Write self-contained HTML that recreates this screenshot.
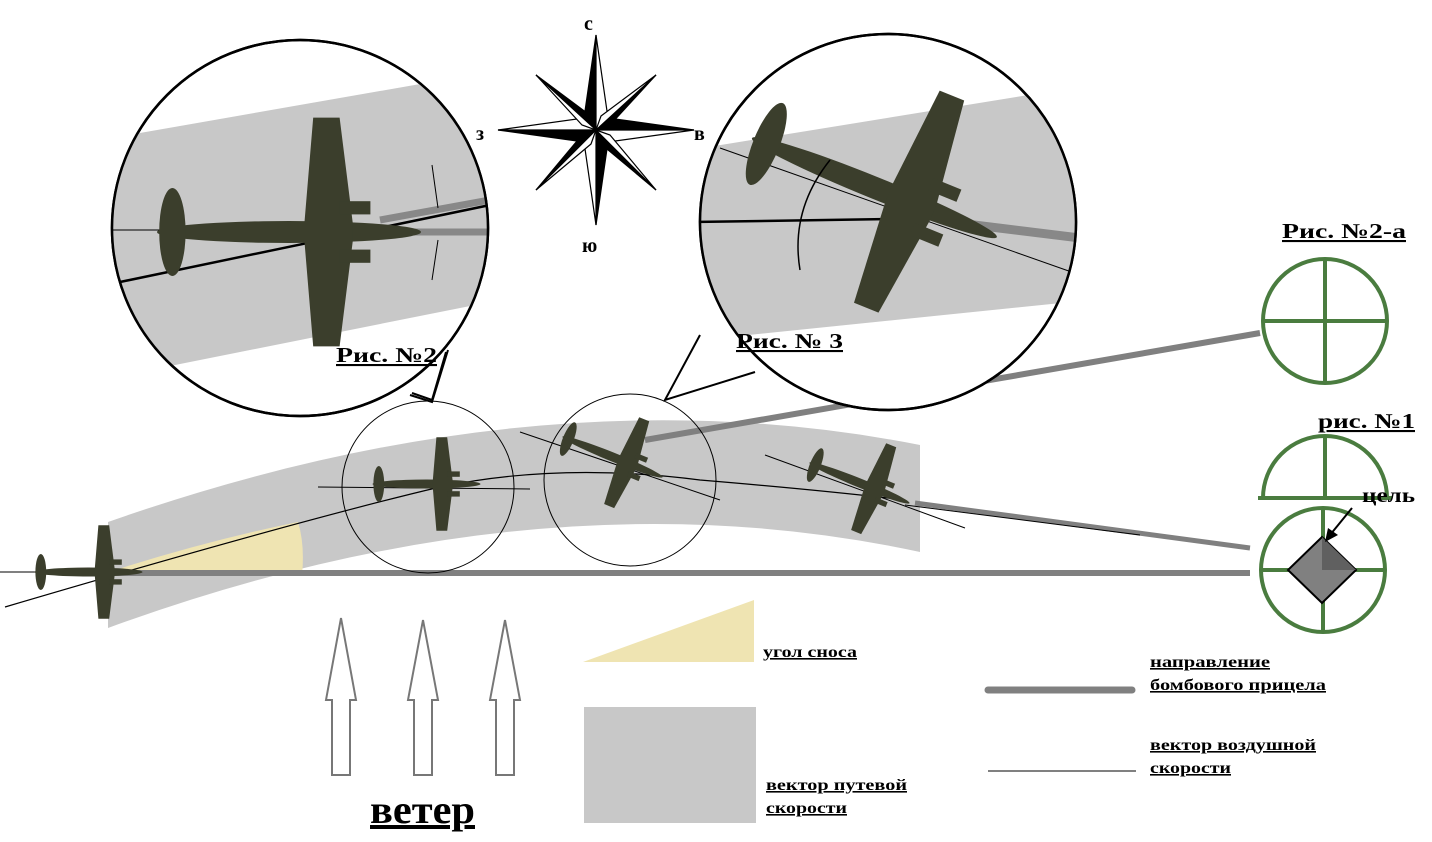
<!DOCTYPE html>
<html><head><meta charset="utf-8"><style>
body{margin:0;background:#fff}
svg{display:block}
text{font-family:"Liberation Serif",serif;font-weight:bold}
</style></head><body>
<svg width="1432" height="842" viewBox="0 0 1432 842" xmlns="http://www.w3.org/2000/svg">
<defs>
<g id="pl">
  <ellipse cx="-15" cy="0" rx="60" ry="5" fill="#3b3e2c"/>
  <ellipse cx="-68" cy="0" rx="6" ry="20" fill="#3b3e2c"/>
  <path d="M-8,-4 L-4,-52 L8,-52 L14,-4 L14,4 L8,52 L-4,52 L-8,4 Z" fill="#3b3e2c"/>
  <rect x="8" y="-14" width="14" height="6" fill="#3b3e2c"/>
  <rect x="8" y="8" width="14" height="6" fill="#3b3e2c"/>
</g>
<clipPath id="c1"><circle cx="300" cy="228" r="188"/></clipPath>
<clipPath id="c2"><circle cx="888" cy="222" r="188"/></clipPath>
</defs>

<path d="M108,522 Q540,370 920,445 L920,552 Q540,470 108,628 Z" fill="#c8c8c8"/>
<path d="M115,575 L302,575 Q305,545 298,522 Q210,540 115,570 Z" fill="#efe4b2"/>

<line x1="115" y1="573" x2="1250" y2="573" stroke="#808080" stroke-width="6"/>
<line x1="645" y1="440" x2="1260" y2="333" stroke="#808080" stroke-width="6"/>
<line x1="915" y1="503" x2="1250" y2="548" stroke="#808080" stroke-width="5"/>

<line x1="0" y1="572" x2="115" y2="572" stroke="#000" stroke-width="1"/>
<path d="M5,607 Q300,520 440,487 Q560,462 700,480 Q820,490 905,500" fill="none" stroke="#000" stroke-width="1.2"/>
<line x1="318" y1="487" x2="530" y2="489" stroke="#000" stroke-width="1"/>
<line x1="520" y1="432" x2="720" y2="500" stroke="#000" stroke-width="1"/>
<line x1="765" y1="455" x2="965" y2="528" stroke="#000" stroke-width="1"/>
<line x1="905" y1="505" x2="1140" y2="535" stroke="#000" stroke-width="1"/>

<use href="#pl" transform="translate(102,572) scale(0.9)"/>
<use href="#pl" transform="translate(440,484) scale(0.9)"/>
<use href="#pl" transform="translate(625,462) rotate(22) scale(0.9)"/>
<use href="#pl" transform="translate(872,488) rotate(22) scale(0.9)"/>

<circle cx="428" cy="487" r="86" fill="none" stroke="#000" stroke-width="1"/>
<circle cx="630" cy="480" r="86" fill="none" stroke="#000" stroke-width="1"/>

<path d="M410,395 L432,402 L448,350" fill="#fff" stroke="#000" stroke-width="2"/>
<circle cx="300" cy="228" r="188" fill="#fff" stroke="#000" stroke-width="2.5"/>
<g clip-path="url(#c1)">
  <polygon points="100,140 500,70 500,300 100,380" fill="#c8c8c8"/>
  <line x1="110" y1="230" x2="490" y2="230" stroke="#000" stroke-width="1"/>
  <line x1="120" y1="282" x2="490" y2="205" stroke="#000" stroke-width="2.5"/>
  <line x1="380" y1="220" x2="490" y2="200" stroke="#888" stroke-width="7"/>
  <line x1="380" y1="232" x2="490" y2="232" stroke="#888" stroke-width="7"/>
  <use href="#pl" transform="translate(322,232) scale(2.2)"/>
  <line x1="432" y1="165" x2="438" y2="208" stroke="#000" stroke-width="1"/>
  <line x1="432" y1="280" x2="438" y2="240" stroke="#000" stroke-width="1"/>
</g>
<circle cx="300" cy="228" r="188" fill="none" stroke="#000" stroke-width="2.5"/>
<path d="M412,393 L432,400 L446,352" fill="none" stroke="#000" stroke-width="2"/>

<circle cx="888" cy="222" r="188" fill="#fff" stroke="#000" stroke-width="2.5"/>
<g clip-path="url(#c2)">
  <polygon points="690,150 1090,85 1090,300 700,340" fill="#c8c8c8"/>
  <line x1="695" y1="222" x2="960" y2="218" stroke="#000" stroke-width="2.5"/>
  <line x1="720" y1="148" x2="1080" y2="275" stroke="#000" stroke-width="1"/>
  <line x1="950" y1="222" x2="1080" y2="238" stroke="#888" stroke-width="9"/>
  <use href="#pl" transform="translate(905,200) rotate(22) scale(2.2)"/>
  <path d="M830,160 Q790,210 800,270" fill="none" stroke="#000" stroke-width="1.5"/>
</g>
<circle cx="888" cy="222" r="188" fill="none" stroke="#000" stroke-width="2.5"/>
<path d="M700,335 L665,400 L755,372" fill="#fff" stroke="#000" stroke-width="2"/>
<path d="M705,326 L750,368" stroke="#fff" stroke-width="5"/>

<g transform="translate(596,130)" stroke="#000" stroke-width="1.2">
  <polygon points="0,-95 -12,-12 0,0" fill="#000"/><polygon points="0,-95 12,-12 0,0" fill="#fff"/>
  <polygon points="0,95 12,12 0,0" fill="#000"/><polygon points="0,95 -12,12 0,0" fill="#fff"/>
  <polygon points="-98,0 -12,12 0,0" fill="#000"/><polygon points="-98,0 -12,-12 0,0" fill="#fff"/>
  <polygon points="98,0 12,-12 0,0" fill="#000"/><polygon points="98,0 12,12 0,0" fill="#fff"/>
  <polygon points="-60,-55 -5,-14 0,0" fill="#000"/><polygon points="-60,-55 -14,-5 0,0" fill="#fff"/>
  <polygon points="60,-55 14,-5 0,0" fill="#000"/><polygon points="60,-55 5,-14 0,0" fill="#fff"/>
  <polygon points="60,60 5,14 0,0" fill="#000"/><polygon points="60,60 14,5 0,0" fill="#fff"/>
  <polygon points="-60,60 -14,5 0,0" fill="#000"/><polygon points="-60,60 -5,14 0,0" fill="#fff"/>
</g>
<text x="584" y="30" font-size="20">с</text>
<text x="476" y="140" font-size="20">з</text>
<text x="694" y="140" font-size="20">в</text>
<text x="582" y="252" font-size="20">ю</text>

<text x="336" y="362" font-size="21" text-decoration="underline" textLength="101" lengthAdjust="spacingAndGlyphs">Рис. №2</text>
<text x="736" y="348" font-size="21" text-decoration="underline" textLength="107" lengthAdjust="spacingAndGlyphs">Рис. № 3</text>
<text x="1282" y="238" font-size="21" text-decoration="underline" textLength="124" lengthAdjust="spacingAndGlyphs">Рис. №2-а</text>
<text x="1318" y="428" font-size="21" text-decoration="underline" textLength="97" lengthAdjust="spacingAndGlyphs">рис. №1</text>

<g stroke="#4a7c3f" stroke-width="4" fill="none">
  <circle cx="1325" cy="321" r="62"/>
  <line x1="1325" y1="259" x2="1325" y2="383"/><line x1="1263" y1="321" x2="1387" y2="321"/>
  <path d="M1263,498 A62,62 0 0 1 1387,498"/>
  <line x1="1325" y1="436" x2="1325" y2="498"/><line x1="1258" y1="498" x2="1392" y2="498"/>
  <circle cx="1323" cy="570" r="62"/>
  <line x1="1323" y1="508" x2="1323" y2="632"/><line x1="1261" y1="570" x2="1385" y2="570"/>
</g>
<polygon points="1322,537 1356,570 1322,603 1288,570" fill="#808080" stroke="#000" stroke-width="2"/>
<polygon points="1322,537 1356,570 1322,570" fill="#606060"/>
<line x1="1352" y1="508" x2="1330" y2="535" stroke="#000" stroke-width="2"/>
<polygon points="1325,542 1328,528 1338,535" fill="#000"/>
<text x="1362" y="502" font-size="20" textLength="53" lengthAdjust="spacingAndGlyphs">цель</text>

<g fill="#fff" stroke="#777" stroke-width="2">
  <polygon points="332,775 350,775 350,700 356,700 341,618 326,700 332,700"/>
  <polygon points="414,775 432,775 432,700 438,700 423,620 408,700 414,700"/>
  <polygon points="496,775 514,775 514,700 520,700 505,620 490,700 496,700"/>
</g>
<text x="370" y="823" font-size="40" text-decoration="underline" textLength="105" lengthAdjust="spacingAndGlyphs">ветер</text>

<polygon points="583,662 754,662 754,600" fill="#efe4b2"/>
<text x="763" y="657" font-size="16" text-decoration="underline" textLength="94" lengthAdjust="spacingAndGlyphs">угол сноса</text>
<rect x="584" y="707" width="172" height="116" fill="#c8c8c8"/>
<text x="766" y="790" font-size="16" text-decoration="underline" textLength="141" lengthAdjust="spacingAndGlyphs">вектор путевой</text>
<text x="766" y="813" font-size="16" text-decoration="underline" textLength="81" lengthAdjust="spacingAndGlyphs">скорости</text>
<line x1="988" y1="690" x2="1132" y2="690" stroke="#808080" stroke-width="7" stroke-linecap="round"/>
<text x="1150" y="667" font-size="16" text-decoration="underline" textLength="120" lengthAdjust="spacingAndGlyphs">направление</text>
<text x="1150" y="690" font-size="16" text-decoration="underline" textLength="176" lengthAdjust="spacingAndGlyphs">бомбового прицела</text>
<line x1="988" y1="771" x2="1136" y2="771" stroke="#000" stroke-width="1"/>
<text x="1150" y="750" font-size="16" text-decoration="underline" textLength="166" lengthAdjust="spacingAndGlyphs">вектор воздушной</text>
<text x="1150" y="773" font-size="16" text-decoration="underline" textLength="81" lengthAdjust="spacingAndGlyphs">скорости</text>
</svg>
</body></html>
